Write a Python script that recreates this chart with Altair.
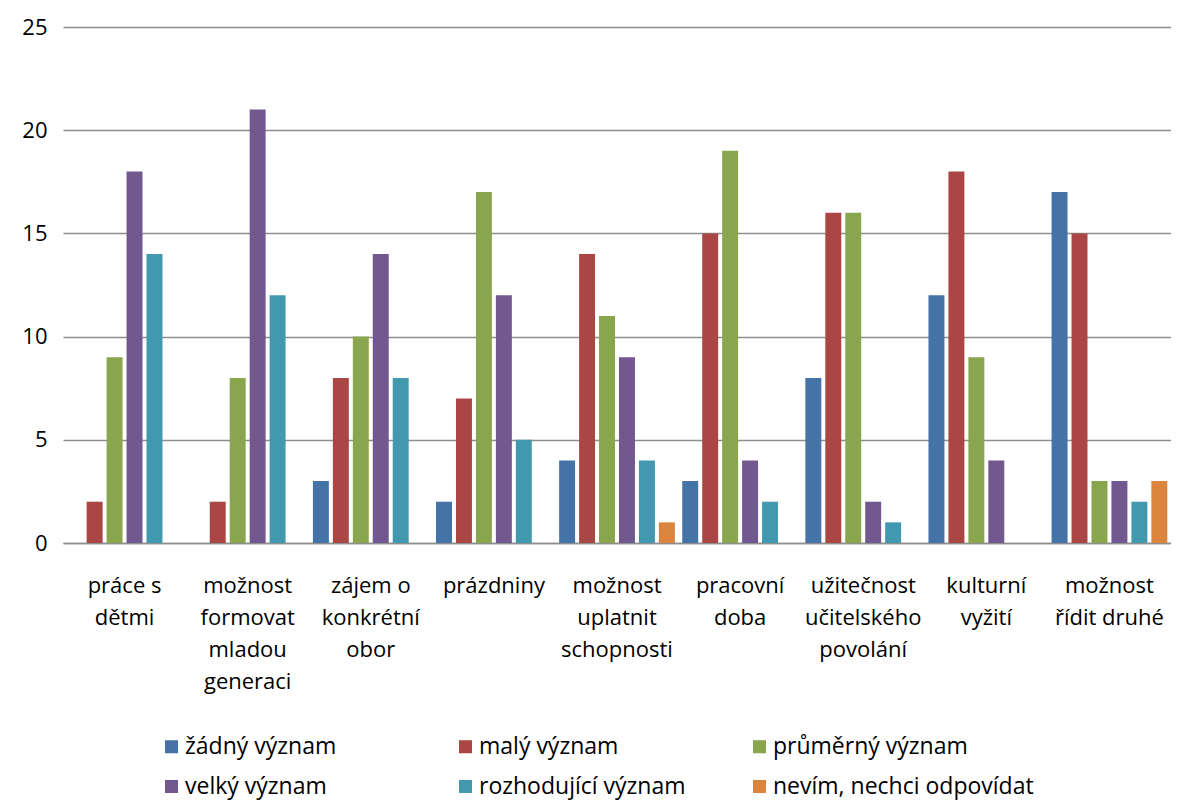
import altair as alt
import pandas as pd

categories = ["práce s|dětmi", "možnost|formovat|mladou|generaci", "zájem o|konkrétní|obor",
              "prázdniny", "možnost|uplatnit|schopnosti", "pracovní|doba",
              "užitečnost|učitelského|povolání", "kulturní|vyžití", "možnost|řídit druhé"]
series = ["žádný význam", "malý význam", "průměrný význam", "velký význam",
          "rozhodující význam", "nevím, nechci odpovídat"]
colors = ["#4572A7", "#AA4643", "#89A54E", "#71588F", "#4198AF", "#DB843D"]

zadny = [0, 0, 3, 2, 4, 3, 8, 12, 17]
maly = [2, 2, 8, 7, 14, 15, 16, 18, 15]
prumerny = [9, 8, 10, 17, 11, 19, 16, 9, 3]
velky = [18, 21, 14, 12, 9, 4, 2, 4, 3]
rozhodujici = [14, 12, 8, 5, 4, 2, 1, 0, 2]
nevim = [0, 0, 0, 0, 1, 0, 0, 0, 3]

values = [zadny, maly, prumerny, velky, rozhodujici, nevim]
rows = []
for s, vals in zip(series, values):
    for c, v in zip(categories, vals):
        rows.append({"kategorie": c, "serie": s, "hodnota": v})
df = pd.DataFrame(rows)
df = df[df["hodnota"] > 0]

FONT = "Open Sans"
FS = 22
LFS = 23

chart = alt.Chart(df).mark_bar().encode(
    x=alt.X("kategorie:N", sort=categories,
            scale=alt.Scale(domain=categories, paddingInner=0.06, paddingOuter=0.03),
            axis=alt.Axis(title=None, labelExpr="split(datum.label, '|')", labelAngle=0,
                          labelFontSize=FS, labelFont=FONT, labelColor="#000",
                          labelPadding=32, labelLineHeight=32, labelBaseline="top",
                          ticks=False, domainColor="#8E8E8E", domainWidth=1.5,
                          labelLimit=200)),
    xOffset=alt.XOffset("serie:N", sort=series,
                        scale=alt.Scale(domain=series, paddingInner=0.2, paddingOuter=0.0)),
    y=alt.Y("hodnota:Q", scale=alt.Scale(domain=[0, 25], nice=False),
            axis=alt.Axis(title=None, values=[0, 5, 10, 15, 20, 25], labelFontSize=FS,
                          labelFont=FONT, labelColor="#000", labelPadding=16, ticks=False,
                          domain=False, gridColor="#8E8E8E", gridWidth=1.3)),
    color=alt.Color("serie:N", sort=series,
                    scale=alt.Scale(domain=series, range=colors),
                    legend=alt.Legend(title=None, orient="none", legendX=97, legendY=708,
                                      direction="horizontal",
                                      columns=3, gridAlign="all", columnPadding=8,
                                      rowPadding=16, symbolType="square", symbolSize=170,
                                      symbolStrokeWidth=0, labelFontSize=LFS, labelFont=FONT,
                                      labelColor="#000", labelOffset=2, labelLimit=400)),
).properties(
    width=1108, height=516,
    autosize=alt.AutoSizeParams(type="none"),
    padding={"left": 55, "top": 19, "right": 0, "bottom": 259},
).configure_view(stroke=None)

chart.save("out.html", embed_options={"renderer": "svg", "actions": False})
